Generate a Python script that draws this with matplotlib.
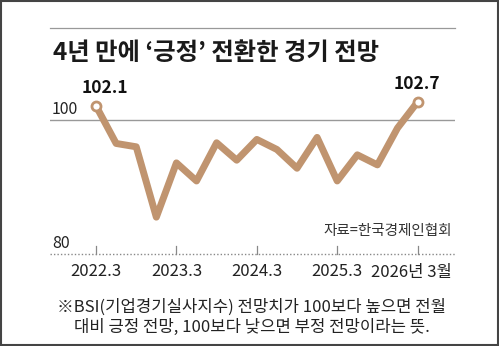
import matplotlib.pyplot as plt
from matplotlib.patches import Rectangle

plt.rcParams['font.family'] = ['Noto Sans CJK KR', 'DejaVu Sans']

# quarterly BSI outlook, 2022.3 -> 2026.3
quarters = ['2022.3', '2022.6', '2022.9', '2022.12',
            '2023.3', '2023.6', '2023.9', '2023.12',
            '2024.3', '2024.6', '2024.9', '2024.12',
            '2025.3', '2025.6', '2025.9', '2025.12', '2026.3']
bsi = [102.1, 96.5, 96.0, 85.5, 93.6, 90.9, 96.6, 94.0, 97.1,
       95.6, 92.8, 97.4, 90.9, 94.8, 93.3, 98.8, 102.7]
tick_idx = [0, 4, 8, 12, 16]
tick_labels = ['2022.3', '2023.3', '2024.3', '2025.3', '2026년 3월']

line_color = '#c0946f'
W, H = 499, 346

fig = plt.figure(figsize=(W / 100, H / 100), dpi=100)
fig.patch.set_facecolor('white')

# outer frame
fig.add_artist(Rectangle((0.002, 0.003), 0.996, 0.994, transform=fig.transFigure,
                         fill=False, edgecolor='#444444', linewidth=1.5))
# rule above title
fig.add_artist(plt.Line2D([50 / W, 455 / W], [1 - 28 / H, 1 - 28 / H],
                          transform=fig.transFigure, color='#999999', linewidth=0.9))
fig.text(53 / W, 1 - 53 / H, '4년 만에 ‘긍정’ 전환한 경기 전망', fontsize=17.5,
         fontweight='bold', va='center', ha='left', color='#1a1a1a')

ax = fig.add_axes([50 / W, 92 / H, 405 / W, 160.8 / H])
x = list(range(len(bsi)))
ax.set_xlim(-2.29, 17.86)
ax.set_ylim(80, 104)
for s in ax.spines.values():
    s.set_visible(False)
ax.set_xticks([])
ax.set_yticks([])
ax.patch.set_alpha(0)

ax.axhline(100, color='#999999', linewidth=1.0, zorder=1)
ax.axhline(80, color='#888888', linewidth=1.0, linestyle=(0, (1, 1.5)), zorder=1,
           clip_on=False)
ax.text(-2.2, 100.3, '100', fontsize=11.5, ha='left', va='bottom', color='#222222')
ax.text(-2.2, 80.3, '80', fontsize=11.5, ha='left', va='bottom', color='#222222')

for i in tick_idx:
    ax.plot([i, i], [80, 81.2], color='#888888', linewidth=0.9, clip_on=False)

ax.plot(x, bsi, color=line_color, linewidth=5, solid_joinstyle='round',
        solid_capstyle='butt', zorder=3)
ax.plot([x[0], x[-1]], [bsi[0], bsi[-1]], 'o', markersize=6.5,
        markerfacecolor='white', markeredgecolor=line_color, markeredgewidth=2,
        zorder=4)
ax.text(x[0] + 0.45, bsi[0] + 1.3, f'{bsi[0]}', fontsize=12.5, fontweight='bold',
        ha='center', va='bottom', color='#111111')
ax.text(x[-1] - 0.05, bsi[-1] + 1.3, f'{bsi[-1]}', fontsize=12.5, fontweight='bold',
        ha='center', va='bottom', color='#111111')

ax.text(17.7, 83.5, '자료=한국경제인협회', fontsize=10.5, ha='right', va='center',
        color='#333333')

for i, lab in zip(tick_idx, tick_labels):
    off = -0.3 if i == 16 else 0
    fig.text((96 + 20.1 * (i + off)) / W, 1 - 272 / H, lab, fontsize=12,
             ha='center', va='center', color='#222222')

fig.text(252 / W, 1 - 307 / H, '※BSI(기업경기실사지수) 전망치가 100보다 높으면 전월',
         fontsize=12, ha='center', va='center', color='#222222')
fig.text(252 / W, 1 - 327 / H, '대비 긍정 전망, 100보다 낮으면 부정 전망이라는 뜻.',
         fontsize=12, ha='center', va='center', color='#222222')

fig.savefig('out.png', dpi=100)
